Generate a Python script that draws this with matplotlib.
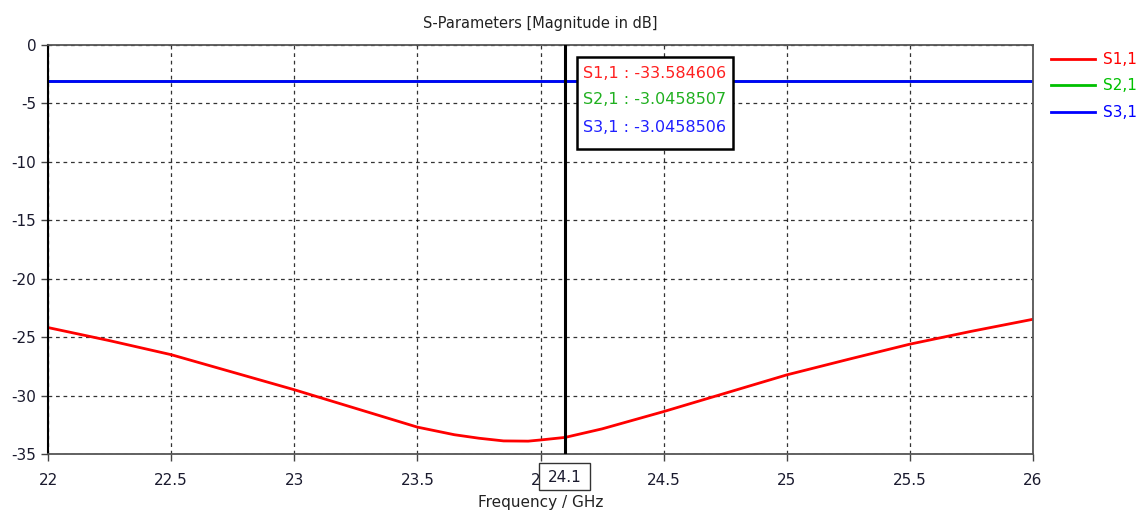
import matplotlib.pyplot as plt
from matplotlib.patches import Rectangle

# S-parameter data
freq = [22.0, 22.25, 22.5, 22.75, 23.0, 23.25, 23.5, 23.65, 23.75, 23.85, 23.95,
        24.0, 24.1, 24.25, 24.5, 24.75, 25.0, 25.25, 25.5, 25.75, 26.0]
s11 = [-24.18, -25.3, -26.5, -28.0, -29.5, -31.1, -32.7, -33.35, -33.65, -33.88, -33.9,
       -33.8, -33.58, -32.85, -31.37, -29.8, -28.23, -26.9, -25.6, -24.5, -23.47]
s21_level = -3.0458507
s31_level = -3.0458506
marker_x = 24.1
marker_vals = ['-33.584606', '-3.0458507', '-3.0458506']

names = ['S1,1', 'S2,1', 'S3,1']
colors = ['#ff0000', '#00c000', '#0000ff']
text_colors = ['#ff2020', '#20b020', '#2020ff']

plt.rcParams['font.family'] = ['DejaVu Sans']
plt.rcParams['axes.unicode_minus'] = False

W, H = 1143, 515
fig = plt.figure(figsize=(W / 100, H / 100), dpi=100)
ax = fig.add_axes([48 / W, 1 - 454 / H, 985 / W, 409 / H])

ax.plot(freq, s11, color=colors[0], lw=2, label=names[0])
ax.plot([freq[0], freq[-1]], [s21_level, s21_level], color=colors[1], lw=2, label=names[1])
ax.plot([freq[0], freq[-1]], [s31_level, s31_level], color=colors[2], lw=2, label=names[2])

ax.axvline(marker_x, color='black', lw=2.2, zorder=5)

ax.set_xlim(22, 26)
ax.set_ylim(-35, 0)
ax.set_xticks([22, 22.5, 23, 23.5, 24, 24.5, 25, 25.5, 26])
ax.set_xticklabels(['22', '22.5', '23', '23.5', '24', '24.5', '25', '25.5', '26'])
ax.set_yticks([0, -5, -10, -15, -20, -25, -30, -35])
ax.grid(True, color='black', linestyle=(0, (3, 3)), lw=0.9, alpha=0.8)
ax.tick_params(direction='out', length=5, width=1, labelsize=11, colors='#444444',
               labelcolor='#1a1a2e')
ax.tick_params(axis='x', pad=9)
for side in ['top', 'bottom', 'right']:
    ax.spines[side].set_color('#555555')
    ax.spines[side].set_linewidth(1.3)
ax.spines['left'].set_color('black')
ax.spines['left'].set_linewidth(1.5)

ax.set_title('S-Parameters [Magnitude in dB]', fontsize=10.5, color='#222222', pad=12)
ax.set_xlabel('Frequency / GHz', fontsize=11, color='#222222', labelpad=5)

# marker readout box (figure pixel coords)
fig.patches.append(Rectangle((577 / W, 1 - 149 / H), 156 / W, 92 / H, transform=fig.transFigure,
                             fc='white', ec='black', lw=1.8, zorder=6))
for i, (n, v, c) in enumerate(zip(names, marker_vals, text_colors)):
    fig.text(583 / W, 1 - (73 + i * 27) / H, f'{n} : {v}', fontsize=11.5,
             va='center', ha='left', color=c, zorder=7)

# marker frequency label on x axis
fig.patches.append(Rectangle((539 / W, 1 - 490 / H), 51 / W, 27 / H, transform=fig.transFigure,
                             fc='white', ec='#333333', lw=1, zorder=8))
fig.text(565 / W, 1 - 477 / H, '24.1', ha='center', va='center', fontsize=11,
         color='#1a1a2e', zorder=9)

fig.legend(loc='upper left', bbox_to_anchor=(1051 / W, 1 - 52 / H), frameon=False,
           labelcolor='linecolor', fontsize=11, handlelength=2.9, labelspacing=0.75,
           handletextpad=0.5, borderaxespad=0, borderpad=0)

fig.savefig('out.png', dpi=100)
